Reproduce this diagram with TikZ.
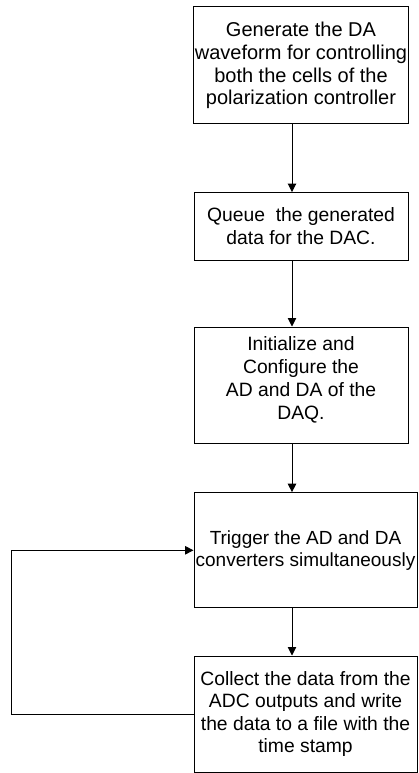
\documentclass[tikz,border=0pt]{standalone}
\usepackage{fontspec}
\setmainfont{Liberation Sans}
\usetikzlibrary{arrows.meta,positioning}

\begin{document}
\begin{tikzpicture}[
  x=1pt, y=-1pt,
  font=\fontsize{19.3}{22.4}\selectfont,
  every node/.style={align=center},
  box/.style={draw, line width=1pt, inner sep=1pt,
              minimum width=214pt},
  widebox/.style={box, minimum width=223pt},
  arr/.style={-{Triangle[length=8.5pt,width=8.5pt]}, line width=0.9pt}
]
\useasboundingbox (0,0) rectangle (419,773);
\node[box, minimum height=117pt, font=\fontsize{20}{22.7}\selectfont] (gen) at (301,65.5)
  {Generate the DA\\waveform for controlling\\both the cells of the\\polarization controller};
\node[box, minimum height=67.5pt] (queue) at (301,226.3)
  {Queue\ \ the generated\\data for the DAC.};
\node[box, minimum height=116pt, text depth=14pt, font=\fontsize{19.3}{23.3}\selectfont] (init) at (301,385)
  {Initialize and\\Configure the\\AD and DA of the\\DAQ.};
\node[widebox, minimum height=115.3pt, font=\fontsize{19}{22.4}\selectfont] (trig) at (305.5,550.3)
  {Trigger the AD and DA\\converters simultaneously};
\node[widebox, minimum height=116pt] (collect) at (305.5,714)
  {Collect the data from the\\ADC outputs and write\\the data to a file with the\\time stamp};
\coordinate (axis) at (292,0);
\coordinate (back) at (11,0);

\draw[arr] (gen.south -| axis) -- (queue.north -| axis);
\draw[arr] (queue.south -| axis) -- (init.north -| axis);
\draw[arr] (init.south -| axis) -- (trig.north -| axis);
\draw[arr] (trig.south -| axis) -- (collect.north -| axis);
\draw[arr] (collect.west) -- (collect.west -| back) |- (trig.west);
\end{tikzpicture}
\end{document}
